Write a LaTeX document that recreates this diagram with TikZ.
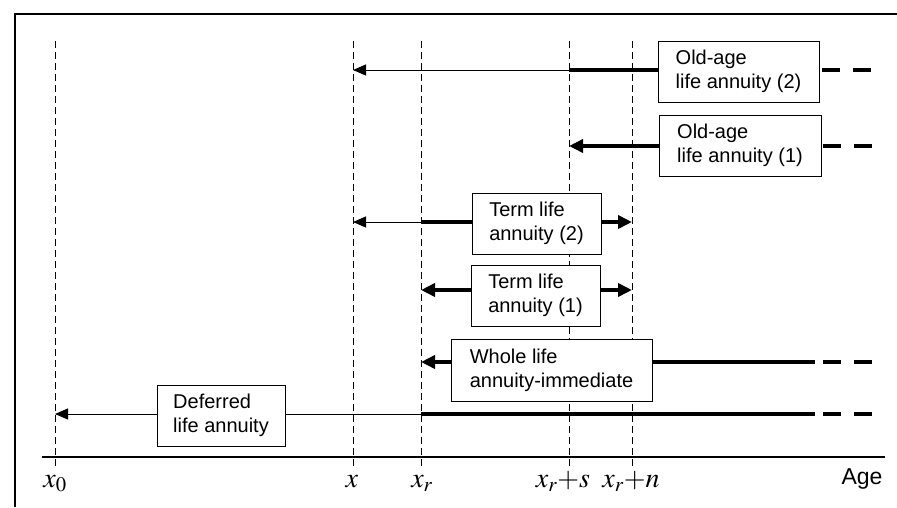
\documentclass[tikz,border=0pt]{standalone}
\usepackage{mathptmx}
\usepackage{fontspec}
\setsansfont{Liberation Sans}
\usetikzlibrary{arrows.meta}
\begin{document}
\begin{tikzpicture}[x=1pt,y=-1pt,
  vline/.style={line width=0.8pt, dash pattern=on 7pt off 4pt},
  thinline/.style={line width=1pt},
  thickline/.style={line width=4.5pt},
  thinarr/.style={line width=1pt, -{Triangle[length=13pt,width=11pt]}},
  thickarr/.style={line width=4.5pt, -{Triangle[length=14pt,width=13pt]}},
  tail/.style={line width=4.5pt, dash pattern=on 18pt off 13pt},
  box/.style={draw, line width=1pt, fill=white, font=\sffamily\fontsize{20}{24}\selectfont, align=left, inner sep=0pt},
  lab/.style={font=\fontsize{28}{30}\selectfont, anchor=base}
]
\useasboundingbox (0,0) rectangle (897,507);
% frame
\draw[line width=1.5pt] (15,507) -- (15,14) -- (897,14);
% vertical guides
\foreach \n/\xx in {g0/55, gx/353, gr/421, gs/569, gn/632}{
  \coordinate (\n t) at (\xx,41);
  \coordinate (\n b) at (\xx,468);
  \draw[vline] (\n t) -- (\n b);
}
% axis
\coordinate (axl) at (42,457);
\coordinate (axr) at (885,457);
\draw[line width=1.2pt] (axl) -- (axr);
\node[lab] (l0) at (55,487) {$x_0$};
\node[lab] (lx) at (352,487) {$x$};
\node[lab] (lr) at (422,487) {$x_r$};
\node[lab] (ls) at (563,487) {$x_r{+}s$};
\node[lab] (ln) at (631,487) {$x_r{+}n$};
\node[font=\sffamily\fontsize{23}{26}\selectfont, anchor=base] (age) at (862,484) {Age};

% boxes
\node[box, minimum width=161pt, minimum height=61pt] (oa2) at (738.5,71.5) {Old-age\\life annuity (2)};
\node[box, minimum width=162pt, minimum height=61pt] (oa1) at (740,145.5) {Old-age\\life annuity (1)};
\node[box, minimum width=129pt, minimum height=61pt] (t2) at (536.5,223.5) {Term life\\annuity (2)};
\node[box, minimum width=129pt, minimum height=61pt] (t1) at (535.5,295.5) {Term life\\annuity (1)};
\node[box, minimum width=201pt, minimum height=62pt] (wl) at (551.5,370) {Whole life\\annuity-immediate};
\node[box, minimum width=128pt, minimum height=61pt] (df) at (221,415.5) {Deferred\\life annuity};

% row 1: old-age (2)
\coordinate (r1x) at (353,70);
\coordinate (r1s) at (569,70);
\coordinate (r1a) at (822,70);
\coordinate (r1b) at (873,70);
\draw[thinarr] (r1s) -- (r1x);
\draw[thickline] (r1s) -- (oa2.west |- r1s);
\draw[tail] (r1a) -- (r1b);
% row 2: old-age (1)
\coordinate (r2s) at (569,146);
\coordinate (r2a) at (823,146);
\coordinate (r2b) at (874,146);
\draw[thickarr] (oa1.west |- r2s) -- (r2s);
\draw[tail] (r2a) -- (r2b);
% row 3: term (2)
\coordinate (r3x) at (353,222);
\coordinate (r3r) at (421,222);
\coordinate (r3n) at (632,222);
\draw[thinarr] (r3r) -- (r3x);
\draw[thickline] (r3r) -- (t2.west |- r3r);
\draw[thickarr] (t2.east |- r3n) -- (r3n);
% row 4: term (1)
\coordinate (r4r) at (421,290);
\coordinate (r4n) at (632,290);
\draw[thickarr] (t1.west |- r4r) -- (r4r);
\draw[thickarr] (t1.east |- r4n) -- (r4n);
% row 5: whole life
\coordinate (r5r) at (421,362);
\coordinate (r5e) at (815,362);
\coordinate (r5a) at (823,362);
\coordinate (r5b) at (873,362);
\draw[thickarr] (wl.west |- r5r) -- (r5r);
\draw[thickline] (wl.east |- r5e) -- (r5e);
\draw[tail] (r5a) -- (r5b);
% row 6: deferred
\coordinate (r60) at (55,414);
\coordinate (r6r) at (421,414);
\coordinate (r6e) at (815,414);
\coordinate (r6a) at (823,414);
\coordinate (r6b) at (873,414);
\draw[thinarr] (df.west |- r60) -- (r60);
\draw[thinline] (df.east |- r6r) -- (r6r);
\draw[thickline] (r6r) -- (r6e);
\draw[tail] (r6a) -- (r6b);
\end{tikzpicture}
\end{document}
